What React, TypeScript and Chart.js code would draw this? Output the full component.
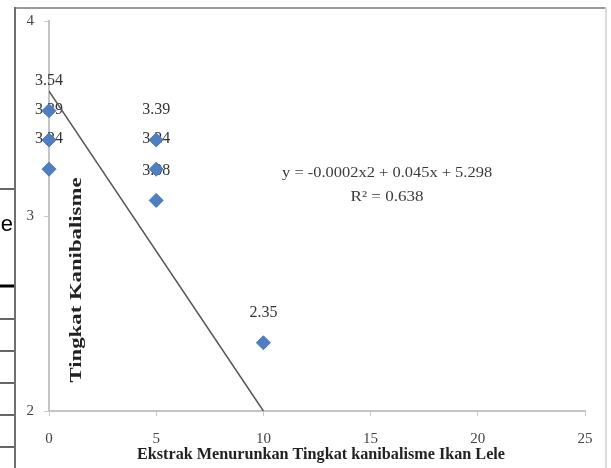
import React, { useEffect, useRef } from 'react';
import { Chart, registerables } from 'chart.js';

Chart.register(...registerables);

// ---- data ----
const doseX = [0, 0, 0, 5, 5, 5, 10];
const cannibalism = [3.54, 3.39, 3.24, 3.39, 3.24, 3.08, 2.35];
const pointLabels = ['3.54', '3.39', '3.24', '3.39', '3.24', '3.08', '2.35'];
const trendX = [0, 10];
const trendY = [3.64, 2.0];
const xTickValues = [0, 5, 10, 15, 20, 25];
const yTickValues = [2, 3, 4];
const xTitle = 'Ekstrak Menurunkan Tingkat kanibalisme Ikan Lele';
const yTitle = 'Tingkat Kanibalisme';
const equationText = 'y = -0.0002x2 + 0.045x + 5.298';
const r2Text = 'R² = 0.638';

const W = 611;
const H = 468;
const SERIF = '"Liberation Serif", "Times New Roman", serif';

function fitText(
  ctx: CanvasRenderingContext2D,
  text: string,
  cx: number,
  cy: number,
  width: number,
  font: string,
  color: string,
  angle = 0
) {
  ctx.save();
  ctx.font = font;
  const w = ctx.measureText(text).width;
  ctx.translate(cx, cy);
  ctx.rotate(angle);
  ctx.scale(width / w, 1);
  ctx.fillStyle = color;
  ctx.textAlign = 'center';
  ctx.textBaseline = 'middle';
  ctx.fillText(text, 0, 0);
  ctx.restore();
}

const decorPlugin = {
  id: 'decor',
  beforeDraw(chart: any) {
    const ctx: CanvasRenderingContext2D = chart.ctx;
    ctx.save();
    ctx.fillStyle = '#ffffff';
    ctx.fillRect(0, 0, W, H);
    // frame
    ctx.strokeStyle = '#9a9a9a';
    ctx.lineWidth = 2;
    ctx.beginPath();
    ctx.moveTo(14, 8);
    ctx.lineTo(607, 8);
    ctx.stroke();
    ctx.strokeStyle = '#6f6f6f';
    ctx.beginPath();
    ctx.moveTo(15, 7);
    ctx.lineTo(15, H);
    ctx.stroke();
    ctx.strokeStyle = '#dcdcdc';
    ctx.beginPath();
    ctx.moveTo(606, 7);
    ctx.lineTo(606, H);
    ctx.stroke();
    // page remnants on the left
    ctx.strokeStyle = '#000';
    const rows = [189, 319, 351, 383, 415, 447];
    ctx.lineWidth = 1.2;
    rows.forEach((y) => {
      ctx.beginPath();
      ctx.moveTo(0, y);
      ctx.lineTo(14, y);
      ctx.stroke();
    });
    ctx.lineWidth = 3;
    ctx.beginPath();
    ctx.moveTo(0, 286);
    ctx.lineTo(14, 286);
    ctx.stroke();
    ctx.fillStyle = '#000';
    ctx.font = '22px "Liberation Sans", Arial, sans-serif';
    ctx.textAlign = 'right';
    ctx.textBaseline = 'middle';
    ctx.fillText('e', 13, 225);
    ctx.restore();
  },
  beforeDatasetsDraw(chart: any) {
    const ctx: CanvasRenderingContext2D = chart.ctx;
    const meta = chart.getDatasetMeta(0);
    ctx.save();
    ctx.font = `16px ${SERIF}`;
    ctx.fillStyle = '#333';
    ctx.textAlign = 'center';
    ctx.textBaseline = 'middle';
    meta.data.forEach((pt: any, i: number) => {
      ctx.fillText(pointLabels[i], pt.x, pt.y - 30);
    });
    ctx.restore();
  },
  afterDraw(chart: any) {
    const ctx: CanvasRenderingContext2D = chart.ctx;
    const area = chart.chartArea;
    const xs = chart.scales.x;
    const ys = chart.scales.y;
    // regression annotation
    fitText(ctx, equationText, xs.getPixelForValue(15.77), ys.getPixelForValue(3.22), 210, `15px ${SERIF}`, '#3a3a3a');
    fitText(ctx, r2Text, xs.getPixelForValue(15.77), ys.getPixelForValue(3.095), 73, `15px ${SERIF}`, '#3a3a3a');
    // axis titles
    fitText(ctx, yTitle, area.left + 28, 280, 205, `bold 17px ${SERIF}`, '#222', -Math.PI / 2);
    fitText(ctx, xTitle, 321, 455, 368, `bold 17px ${SERIF}`, '#222');
  },
};

export default function App() {
  const ref = useRef<HTMLCanvasElement>(null);

  useEffect(() => {
    document.body.style.margin = '0';
    const canvas = ref.current;
    if (!canvas) return;
    const chart = new Chart(canvas, {
      type: 'scatter',
      data: {
        datasets: [
          {
            type: 'scatter',
            label: 'Kanibalisme',
            data: doseX.map((x, i) => ({ x, y: cannibalism[i] })),
            pointStyle: 'rectRot',
            pointRadius: 7,
            pointHoverRadius: 7,
            backgroundColor: '#4f7fc0',
            borderColor: '#4a78b8',
            borderWidth: 1,
            clip: false,
            order: 1,
          },
          {
            type: 'line',
            label: 'Trend',
            data: trendX.map((x, i) => ({ x, y: trendY[i] })),
            borderColor: '#555555',
            borderWidth: 1.5,
            pointRadius: 0,
            fill: false,
            order: 2,
          },
        ],
      } as any,
      options: {
        responsive: false,
        animation: false,
        events: [],
        layout: { padding: { top: 21, right: 26, bottom: 0, left: 0 } },
        plugins: {
          legend: { display: false },
          tooltip: { enabled: false },
          title: { display: false },
        },
        scales: {
          x: {
            type: 'linear',
            min: 0,
            max: 25,
            afterBuildTicks: (s: any) => {
              s.ticks = xTickValues.map((v) => ({ value: v }));
            },
            afterFit: (s: any) => {
              s.height = 57;
            },
            grid: { drawOnChartArea: false, drawTicks: true, tickLength: 5, color: '#c8c8c8' },
            border: { color: '#c4c4c4', width: 2 },
            ticks: {
              color: '#444',
              padding: 14,
              font: { family: SERIF, size: 15 },
              maxRotation: 0,
            },
          },
          y: {
            type: 'linear',
            min: 2,
            max: 4,
            afterBuildTicks: (s: any) => {
              s.ticks = yTickValues.map((v) => ({ value: v }));
            },
            afterFit: (s: any) => {
              s.width = 49;
            },
            grid: { drawOnChartArea: false, drawTicks: true, tickLength: 5, color: '#c8c8c8' },
            border: { color: '#c4c4c4', width: 2 },
            ticks: {
              color: '#444',
              padding: 10,
              font: { family: SERIF, size: 15 },
            },
          },
        },
      } as any,
      plugins: [decorPlugin],
    });
    return () => chart.destroy();
  }, []);

  return (
    <div style={{ width: W, height: H, position: 'relative' }}>
      <canvas ref={ref} width={W} height={H} style={{ display: 'block' }} />
    </div>
  );
}
